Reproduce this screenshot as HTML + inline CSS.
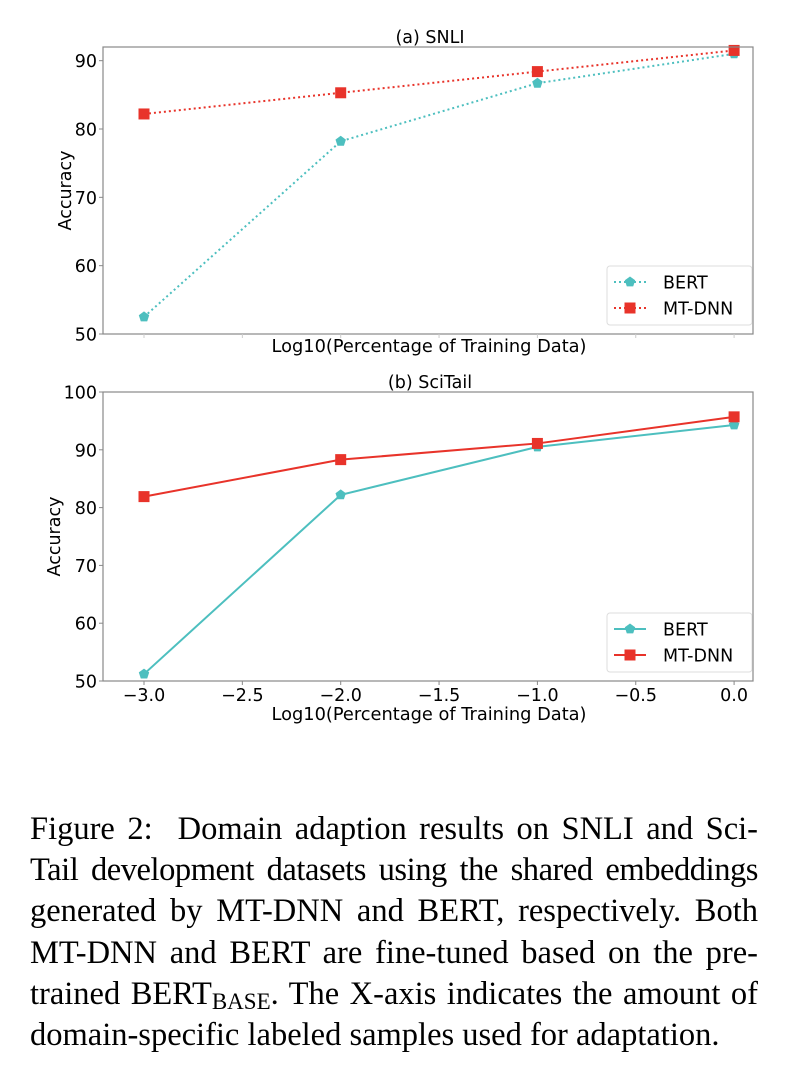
<!DOCTYPE html>
<html><head><meta charset="utf-8"><style>
body{margin:0;background:#fff;width:788px;height:1072px;overflow:hidden;position:relative}
svg text{font-family:"DejaVu Sans","Liberation Sans",sans-serif;fill:#000}
#cap{position:absolute;left:30px;top:809px;width:728px;font-family:"Liberation Serif",serif;font-size:32.5px;line-height:41.2px;color:#000}
#cap div{text-align:justify;text-align-last:justify;white-space:nowrap;height:41.2px;overflow:visible}
#cap div.last{text-align-last:left}
#cap sub{font-size:23px;position:relative;top:5px;vertical-align:baseline;line-height:0}
</style></head><body>
<svg id="chart" width="788" height="800" style="position:absolute;left:0;top:0"></svg>
<div id="cap">
<div>Figure 2:&nbsp; Domain adaption results on SNLI and Sci-</div>
<div style="letter-spacing:-0.45px;word-spacing:-2px">Tail development datasets using the shared embeddings</div>
<div>generated by MT-DNN and BERT, respectively. Both</div>
<div>MT-DNN and BERT are fine-tuned based on the pre-</div>
<div>trained BERT<sub>BASE</sub>. The X-axis indicates the amount of</div>
<div class="last">domain-specific labeled samples used for adaptation.</div>
</div>
<script>
const xVals=[-3,-2,-1,0];
const snliBert=[52.5,78.2,86.7,91.0];
const snliMtdnn=[82.2,85.3,88.4,91.5];
const sciBert=[51.2,82.2,90.5,94.3];
const sciMtdnn=[81.9,88.3,91.1,95.7];
const xTicks=[-3,-2.5,-2,-1.5,-1,-0.5,0];
const xTickLabels=["\u22123.0","\u22122.5","\u22122.0","\u22121.5","\u22121.0","\u22120.5","0.0"];
const snliYTicks=[50,60,70,80,90];
const sciYTicks=[50,60,70,80,90,100];
const svg=document.getElementById('chart');
const NS='http://www.w3.org/2000/svg';
function mk(t,a,p){const e=document.createElementNS(NS,t);for(const k in a)e.setAttribute(k,a[k]);(p||svg).appendChild(e);return e;}
const teal='#4dbfbf',red='#e8332a';
function xs(v){return 144+(v+3)*196.7;}
function marker(g,type,x,y,c){
  if(type==='sq'){const e=mk('rect',{x:x-5.5,y:y-5.5,width:11,height:11,fill:c},g);return e;}
  let pts=[];for(let i=0;i<5;i++){const a=-Math.PI/2+i*2*Math.PI/5;pts.push((x+5.5*Math.cos(a)).toFixed(1)+','+(y+5.5*Math.sin(a)).toFixed(1));}
  return mk('polygon',{points:pts.join(' '),fill:c},g);
}
function panel(opt){
  const g=mk('g',{});
  
  
  const L=103,R=753,T=opt.top,B=opt.bottom;
  const ys=v=>B-(v-opt.ymin)/(opt.ymax-opt.ymin)*(B-T);
  const dash=opt.dotted?'2,3':null;
  const series=[[opt.bert,teal,'pent','bert-line'],[opt.mt,red,'sq','mtdnn-line']];
  series.forEach(s=>{
    const pts=s[0].map((v,i)=>xs(xVals[i])+','+ys(v)).join(' ');
    const pl=mk('polyline',{points:pts,fill:'none',stroke:s[1],'stroke-width':2},g);
    if(dash)pl.setAttribute('stroke-dasharray',dash);
    
    
    s[0].forEach((v,i)=>{const m=marker(g,s[2],xs(xVals[i]),ys(v),s[1]);
      
      });
  });
  const fr=mk('rect',{x:L,y:T,width:R-L,height:B-T,fill:'none',stroke:'#888','stroke-width':1.2},g);
  
  
  opt.yticks.forEach(v=>{const y=ys(v);mk('line',{x1:L-4,x2:L,y1:y,y2:y,stroke:'#888'},g);
    const t=mk('text',{x:L-6,y:y+6.5,'text-anchor':'end','font-size':17.5},g);t.textContent=v;
    
    });
  xTicks.forEach((v,i)=>{const x=xs(v);mk('line',{x1:x,x2:x,y1:B,y2:B+4,stroke:opt.labels?'#888':'#ccc'},g);
    if(opt.labels){const t=mk('text',{x:x,y:B+20,'text-anchor':'middle','font-size':17.5},g);t.textContent=xTickLabels[i];
      
      }});
  const tt=mk('text',{x:430,y:T-4,'text-anchor':'middle','font-size':17.5},g);tt.textContent=opt.title;
  
  
  const xl=mk('text',{x:429,y:opt.xlY,'text-anchor':'middle','font-size':17.8},g);xl.textContent='Log10(Percentage of Training Data)';
  
  
  const cy=(T+B)/2;
  const yl=mk('text',{x:0,y:0,'text-anchor':'middle','font-size':17.5,transform:`translate(${opt.ylX},${cy}) rotate(-90)`},g);yl.textContent='Accuracy';
  
  
  const lg=mk('g',{},g);
  
  
  const ly=B-68;
  mk('rect',{x:607,y:ly,width:145,height:59,rx:3,fill:'#fff',stroke:'#ddd'},lg);
  [['BERT',teal,'pent'],['MT-DNN',red,'sq']].forEach((e,i)=>{const y=ly+16+i*26;
    const l=mk('line',{x1:614,x2:646,y1:y,y2:y,stroke:e[1],'stroke-width':2},lg);
    if(dash)l.setAttribute('stroke-dasharray',dash);
    marker(lg,e[2],630,y,e[1]);
    const t=mk('text',{x:663,y:y+6.5,'font-size':17.5},lg);t.textContent=e[0];
    
    });
}
panel({name:'snli-panel',top:47,bottom:334,ymin:50,ymax:92,yticks:snliYTicks,bert:snliBert,mt:snliMtdnn,dotted:true,labels:false,title:'(a) SNLI',xlY:352,ylX:71});
panel({name:'scitail-panel',top:392,bottom:681,ymin:50,ymax:100,yticks:sciYTicks,bert:sciBert,mt:sciMtdnn,dotted:false,labels:true,title:'(b) SciTail',xlY:720,ylX:60});
</script>
</body></html>
